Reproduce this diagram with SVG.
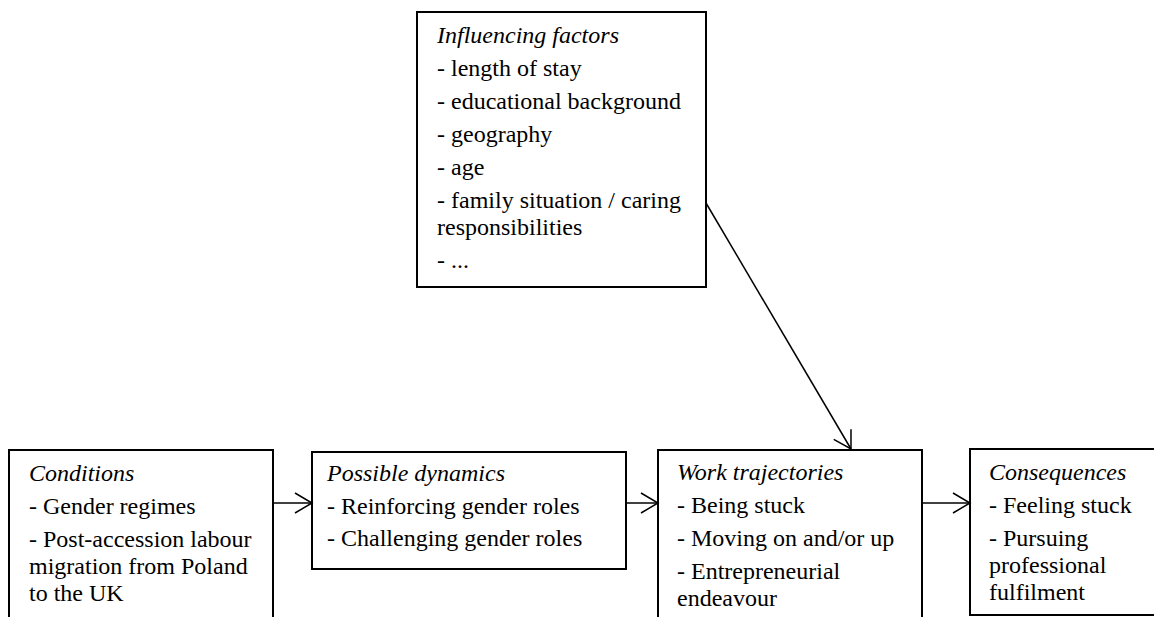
<svg xmlns="http://www.w3.org/2000/svg" width="1154" height="617" viewBox="0 0 1154 617">
<style>
.box{fill:#fff;stroke:#000;stroke-width:2}
.c{stroke:#000;stroke-width:1.5;fill:none}
.n text{font-family:'Liberation Serif' !important;font-size:24px;fill:#000}
</style>
<defs>
<marker id="ah" markerUnits="userSpaceOnUse" markerWidth="24" markerHeight="24" viewBox="-20 -12 22 24" refX="0" refY="0" orient="auto">
<path d="M-17,-10 L0,0 L-17,10" fill="none" stroke="#000" stroke-width="1.5"/>
</marker>
</defs>
<rect width="1154" height="617" fill="#fff"/>
<g id="influencing" class="n" font-family="Times New Roman">
<rect class="box" x="417" y="12" width="289" height="275"/>
<text x="437" y="43" font-style="italic">Influencing factors</text>
<text x="437" y="76">- length of stay</text>
<text x="437" y="109">- educational background</text>
<text x="437" y="142">- geography</text>
<text x="437" y="175">- age</text>
<text x="437" y="208">- family situation / caring</text>
<text x="437" y="235">responsibilities</text>
<text x="437" y="268">- ...</text>
</g>
<g id="conditions" class="n" font-family="Times New Roman">
<rect class="box" x="9" y="450" width="264" height="180"/>
<text x="29" y="481" font-style="italic">Conditions</text>
<text x="29" y="514">- Gender regimes</text>
<text x="29" y="547">- Post-accession labour</text>
<text x="29" y="574">migration from Poland</text>
<text x="29" y="601">to the UK</text>
</g>
<g id="dynamics" class="n" font-family="Times New Roman">
<rect class="box" x="312" y="452" width="314" height="117"/>
<text x="327" y="481" font-style="italic">Possible dynamics</text>
<text x="327" y="514">- Reinforcing gender roles</text>
<text x="327" y="546">- Challenging gender roles</text>
</g>
<g id="work" class="n" font-family="Times New Roman">
<rect class="box" x="658" y="450" width="264" height="180"/>
<text x="677" y="480" font-style="italic">Work trajectories</text>
<text x="677" y="513">- Being stuck</text>
<text x="677" y="546">- Moving on and/or up</text>
<text x="677" y="579">- Entrepreneurial</text>
<text x="677" y="606">endeavour</text>
</g>
<g id="consequences" class="n" font-family="Times New Roman">
<rect class="box" x="970" y="449" width="190" height="166"/>
<text x="989" y="480" font-style="italic">Consequences</text>
<text x="989" y="513">- Feeling stuck</text>
<text x="989" y="546">- Pursuing</text>
<text x="989" y="573">professional</text>
<text x="989" y="600">fulfilment</text>
</g>
<g id="connectors">
<line class="c" x1="273" y1="503" x2="312" y2="503" marker-end="url(#ah)"/>
<line class="c" x1="626" y1="503" x2="658" y2="503" marker-end="url(#ah)"/>
<line class="c" x1="922" y1="503" x2="970" y2="503" marker-end="url(#ah)"/>
<line class="c" x1="706" y1="203" x2="851" y2="449" marker-end="url(#ah)"/>
</g>
</svg>
